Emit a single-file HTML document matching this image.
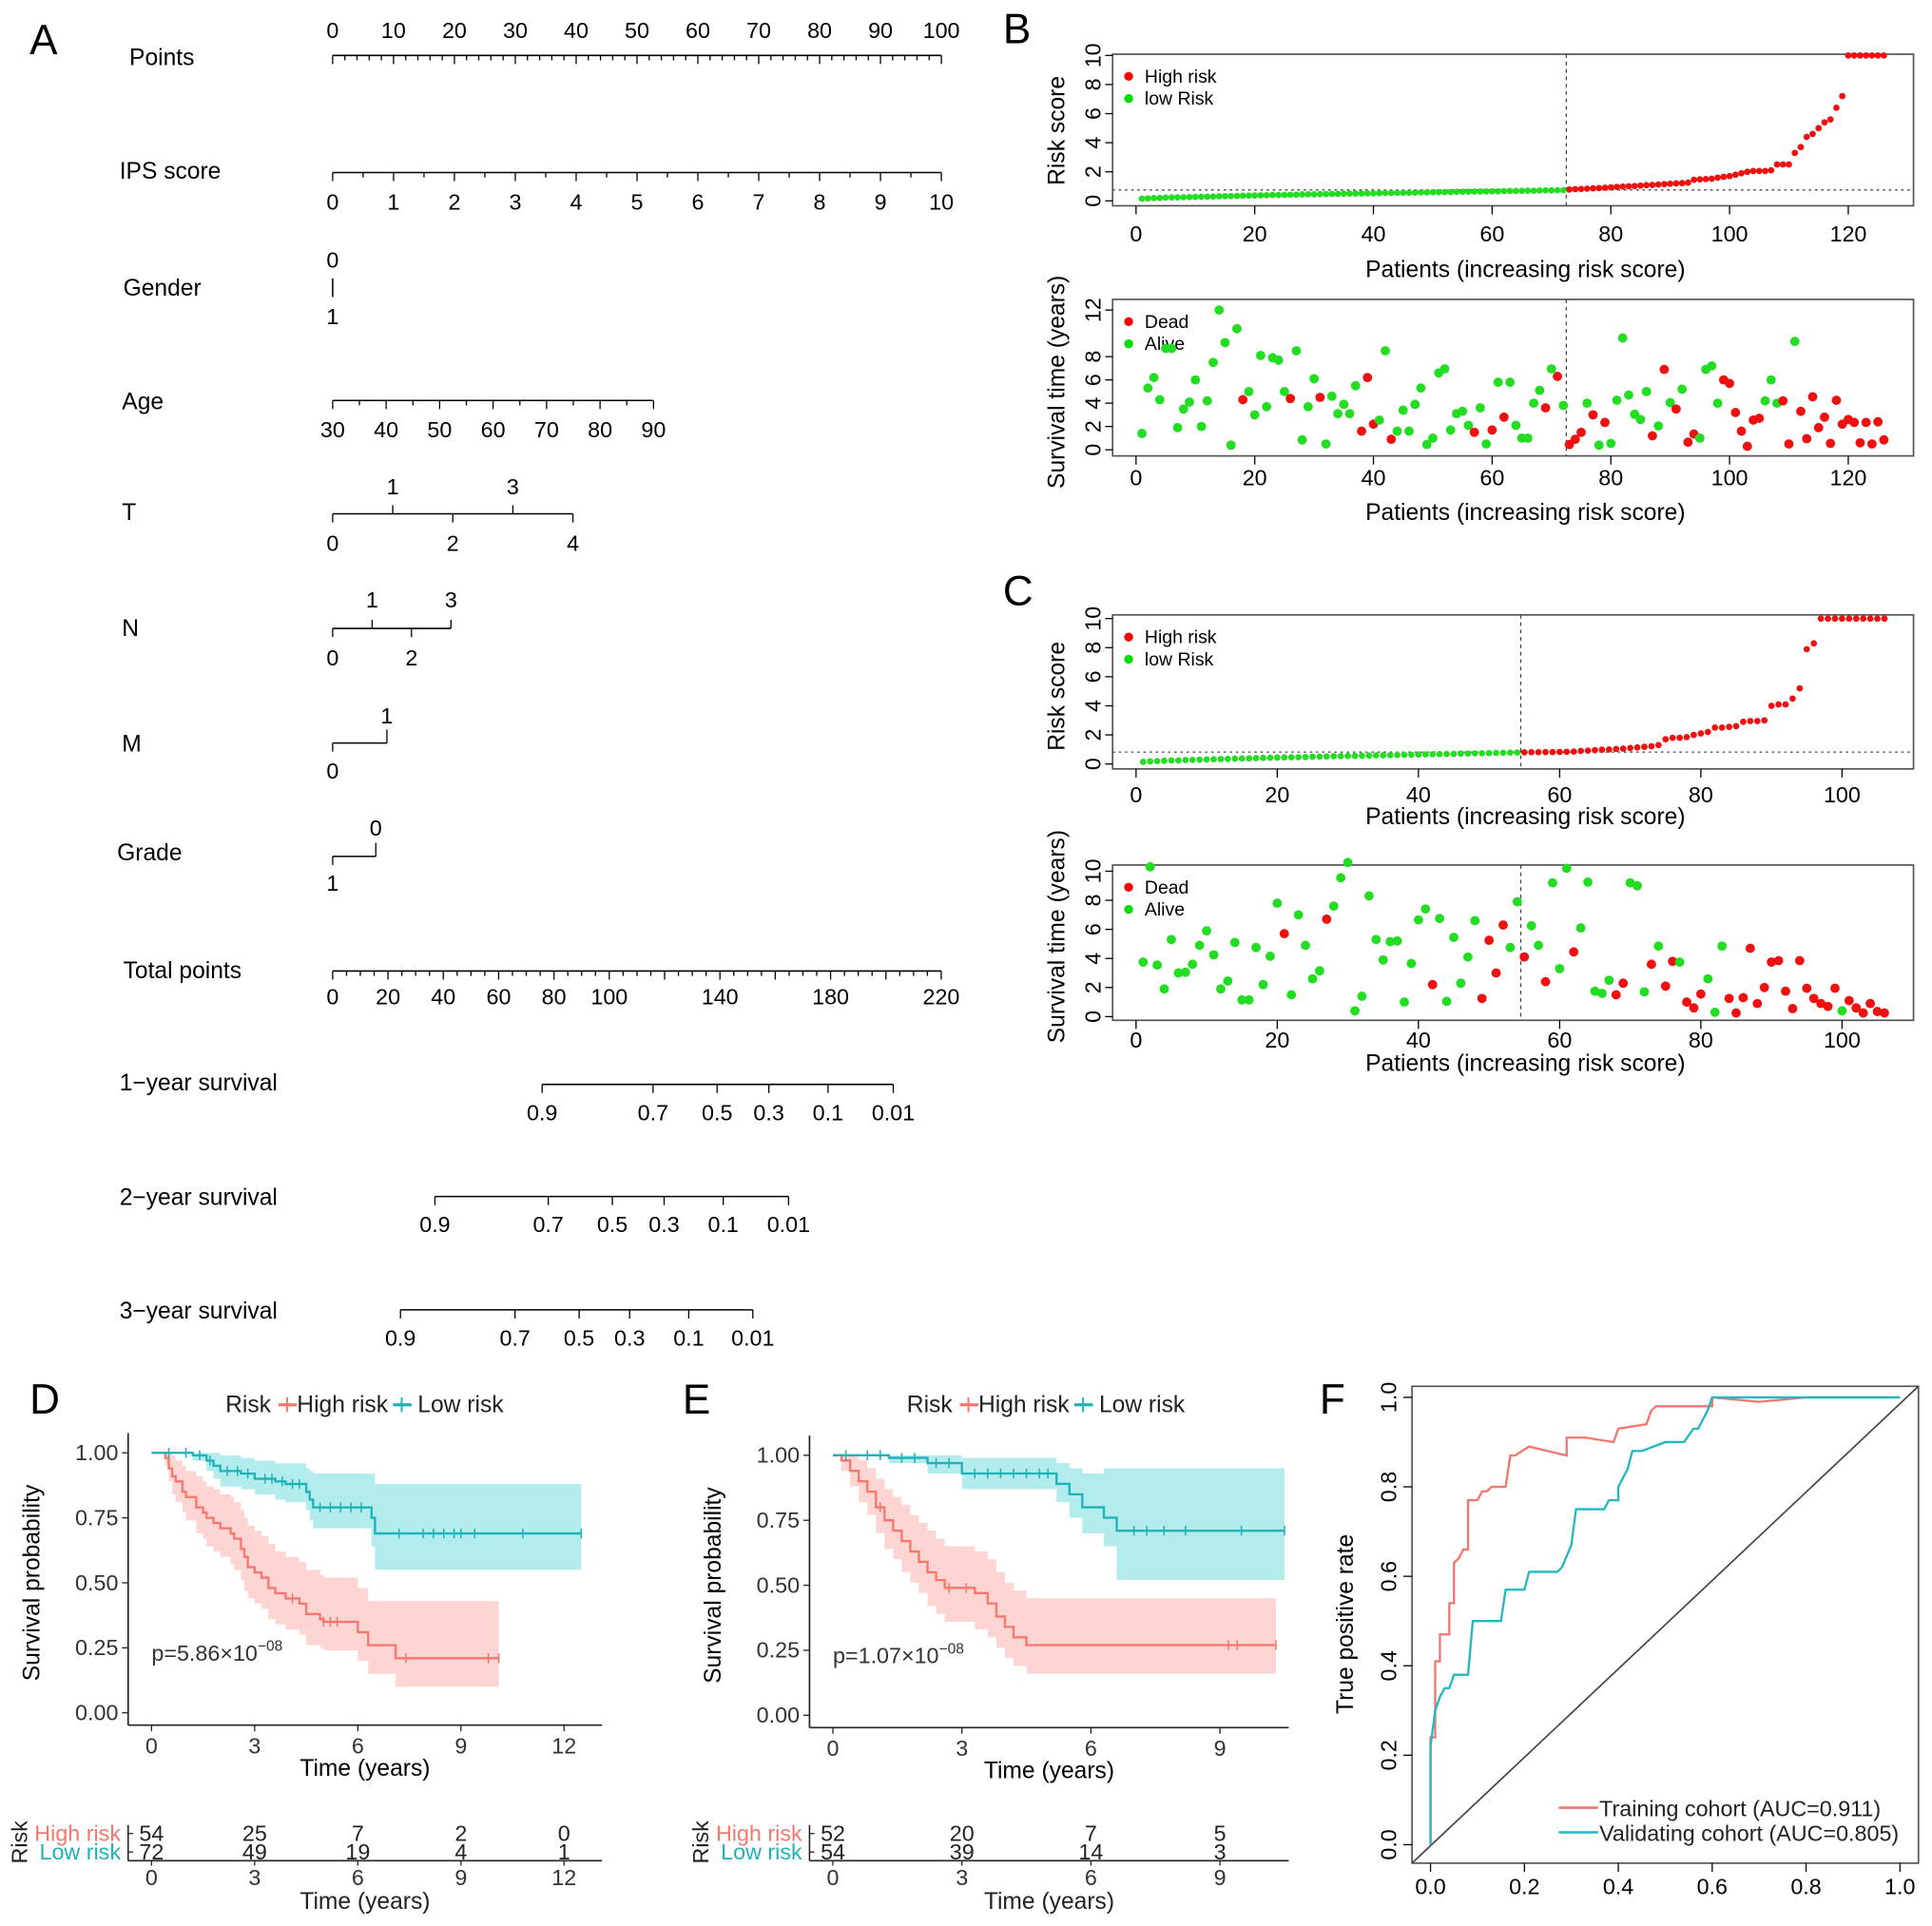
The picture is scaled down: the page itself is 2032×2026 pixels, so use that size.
<!DOCTYPE html>
<html><head><meta charset="utf-8"><style>
html,body{margin:0;padding:0;background:#fff;}
svg{display:block;font-family:"Liberation Sans",Arial,sans-serif;}
</style></head><body>
<svg id="fig" width="2032" height="2026" viewBox="0 0 1568 1563" preserveAspectRatio="none" xmlns="http://www.w3.org/2000/svg">
<rect x="0" y="0" width="1568" height="1563" fill="#fff"/>
<g font-size="34" fill="#000">
<text x="24" y="44">A</text>
<text x="814" y="35">B</text>
<text x="814" y="491">C</text>
<text x="24" y="1147">D</text>
<text x="554" y="1147">E</text>
<text x="1071" y="1147">F</text>
</g>
<g id="nomo"></g>
<g id="pB"></g>
<g id="pC"></g>
<g id="pD"></g>
<g id="pE"></g>
<g id="pF"></g>
</svg>
<script>
// ---------- DATA ----------
const bLowRisk=[0.15,0.17,0.19,0.2,0.22,0.23,0.24,0.25,0.26,0.27,0.28,0.29,0.3,0.31,0.32,0.33,0.34,0.35,0.36,0.37,0.38,0.39,0.4,0.4,0.41,0.42,0.43,0.44,0.45,0.45,0.46,0.47,0.48,0.48,0.49,0.5,0.5,0.51,0.52,0.52,0.53,0.54,0.54,0.55,0.56,0.56,0.57,0.58,0.58,0.59,0.6,0.6,0.61,0.62,0.62,0.63,0.64,0.64,0.65,0.66,0.66,0.67,0.68,0.68,0.69,0.7,0.7,0.71,0.72,0.72,0.73,0.74];
const bHighRisk=[0.78,0.8,0.82,0.84,0.86,0.88,0.9,0.93,0.96,0.98,1.0,1.02,1.05,1.08,1.1,1.12,1.15,1.18,1.2,1.22,1.25,1.45,1.48,1.5,1.52,1.6,1.65,1.7,1.8,1.9,2.0,2.05,2.05,2.05,2.1,2.5,2.5,2.5,3.3,3.7,4.4,4.6,5.0,5.4,5.6,6.4,7.2,10,10,10,10,10,10,10];
const bSurvTime=[1.4,5.3,6.2,4.3,8.7,8.7,1.9,3.5,4.1,6.0,2.0,4.2,7.5,12,9.2,0.4,10.4,4.3,5.0,3.0,8.1,3.7,7.9,7.7,5.0,4.4,8.5,0.85,3.7,6.1,4.5,0.5,4.6,3.1,3.9,3.1,5.5,1.6,6.2,2.2,2.55,8.5,0.9,1.6,3.4,1.6,3.9,5.3,0.45,1.0,6.6,6.95,1.7,3.1,3.3,2.1,1.5,3.6,0.5,1.7,5.8,2.8,5.8,2.1,1.0,1.0,4.0,5.1,3.6,6.95,6.3,3.8,0.45,0.9,1.5,4.0,3.0,0.4,2.35,0.55,4.25,9.6,4.7,3.05,2.6,5.0,1.2,2.05,6.9,4.05,3.5,5.2,0.65,1.35,1.0,6.9,7.2,4.0,6.0,5.7,3.2,1.6,0.3,2.55,2.7,4.2,6.0,4.0,4.2,0.5,9.3,3.3,0.95,4.55,1.9,2.8,0.55,4.25,2.2,2.6,2.35,0.6,2.35,0.5,2.4,0.85];
const bDead=[0,0,0,0,0,0,0,0,0,0,0,0,0,0,0,0,0,1,0,0,0,0,0,0,0,1,0,0,0,0,1,0,0,0,0,0,0,1,1,1,0,0,1,0,0,0,0,0,0,0,0,0,0,0,0,0,1,0,0,1,0,1,0,0,0,0,0,0,1,0,1,0,1,1,1,0,1,0,1,0,0,0,0,0,0,0,1,0,1,0,1,0,1,1,0,0,0,0,1,1,1,1,1,1,1,0,0,0,1,1,0,1,1,1,1,1,1,1,1,1,1,1,1,1,1,1];
const cLowRisk=[0.15,0.18,0.2,0.22,0.24,0.25,0.27,0.28,0.3,0.31,0.33,0.34,0.35,0.37,0.38,0.39,0.4,0.42,0.43,0.44,0.45,0.46,0.47,0.48,0.5,0.51,0.52,0.53,0.54,0.55,0.56,0.57,0.58,0.59,0.6,0.61,0.62,0.63,0.64,0.65,0.66,0.67,0.68,0.69,0.7,0.71,0.72,0.73,0.74,0.75,0.76,0.77,0.78,0.79];
const cHighRisk=[0.8,0.81,0.81,0.82,0.82,0.83,0.84,0.85,0.9,0.92,0.95,0.98,1.0,1.03,1.06,1.1,1.14,1.18,1.22,1.3,1.7,1.8,1.8,1.85,2.0,2.1,2.2,2.5,2.5,2.55,2.6,2.9,2.95,2.95,3.0,4.0,4.1,4.1,4.5,5.2,7.9,8.3,10,10,10,10,10,10,10,10,10,10];
const cSurvTime=[3.75,10.3,3.55,1.9,5.3,3.0,3.05,3.6,4.9,5.9,4.25,1.9,2.45,5.1,1.15,1.15,4.75,2.2,4.15,7.8,5.7,1.5,7.0,4.9,2.6,3.15,6.7,7.6,9.55,10.6,0.4,1.4,8.3,5.3,3.9,5.15,5.2,1.0,3.65,6.65,7.4,2.2,6.75,1.05,5.45,2.3,4.1,6.6,1.25,5.25,3.0,6.3,4.75,7.9,4.1,6.25,4.9,2.4,9.2,3.3,10.2,4.45,6.1,9.25,1.75,1.6,2.5,1.5,2.3,9.2,9.0,1.7,3.6,4.85,2.1,3.8,3.75,1.0,0.6,1.55,2.6,0.3,4.85,1.25,0.25,1.3,4.7,0.9,2.0,3.75,3.85,1.75,0.55,3.85,1.95,1.25,0.9,0.7,1.95,0.4,1.1,0.6,0.25,0.9,0.35,0.25];
const cDead=[0,0,0,0,0,0,0,0,0,0,0,0,0,0,0,0,0,0,0,0,1,0,0,0,0,0,1,0,0,0,0,0,0,0,0,0,0,0,0,0,0,1,0,0,0,0,0,0,1,1,1,1,0,0,1,0,0,1,0,0,0,1,0,0,0,0,0,1,1,0,0,0,1,0,1,1,0,1,1,1,0,0,0,1,1,1,1,1,1,1,1,1,1,1,1,1,1,1,1,0,1,1,1,1,1,1];
// KM D
const dHighT=[0,0.4,0.5,0.6,0.7,0.9,1.0,1.3,1.5,1.6,1.8,2.0,2.3,2.4,2.6,2.7,2.8,3.0,3.2,3.4,3.6,3.9,4.3,4.5,4.9,5.0,6.0,6.3,7.1];
const dHighS=[1,0.98,0.94,0.91,0.89,0.85,0.83,0.79,0.77,0.75,0.73,0.71,0.69,0.67,0.63,0.60,0.56,0.54,0.52,0.48,0.46,0.44,0.42,0.38,0.36,0.35,0.31,0.26,0.21];
const dHighUp=[1,1,1,0.99,0.97,0.95,0.93,0.91,0.89,0.87,0.86,0.84,0.83,0.81,0.78,0.75,0.72,0.70,0.68,0.65,0.62,0.60,0.58,0.55,0.53,0.52,0.48,0.43,0.43];
const dHighLo=[1,0.95,0.89,0.84,0.81,0.77,0.74,0.69,0.67,0.64,0.62,0.60,0.57,0.55,0.51,0.47,0.44,0.42,0.40,0.36,0.34,0.32,0.30,0.26,0.25,0.24,0.20,0.15,0.10];
const dHighEnd=10.1;
const dHighCens=[4.1,5.0,5.2,5.4,7.4,9.8,10.1];
const dLowT=[0,1.2,1.6,1.8,2.0,2.6,3.0,3.6,3.9,4.5,4.6,4.7,6.4,6.5];
const dLowS=[1,0.99,0.97,0.95,0.93,0.92,0.90,0.89,0.88,0.85,0.82,0.79,0.75,0.69];
const dLowUp=[1,1,1,1,0.99,0.98,0.97,0.96,0.96,0.94,0.93,0.92,0.92,0.88];
const dLowLo=[1,0.97,0.93,0.90,0.87,0.86,0.84,0.82,0.81,0.78,0.74,0.71,0.64,0.55];
const dLowEnd=12.5;
const dLowCens=[0.5,1.0,1.4,1.7,2.2,2.5,2.8,3.3,3.5,3.8,4.1,4.3,4.9,5.2,5.5,5.8,6.1,7.2,7.9,8.2,8.5,8.8,9.0,9.4,10.8,12.5];
const dRiskTimes=[0,3,6,9,12];
const dRiskHigh=[54,25,7,2,0];
const dRiskLow=[72,49,19,4,1];
// KM E
const eHighT=[0,0.2,0.4,0.6,0.8,1.0,1.2,1.4,1.6,1.8,2.0,2.2,2.4,2.6,3.3,3.6,3.8,4.0,4.2,4.5];
const eHighS=[1,0.98,0.94,0.90,0.86,0.80,0.75,0.71,0.67,0.63,0.59,0.55,0.52,0.49,0.47,0.43,0.38,0.34,0.30,0.27];
const eHighUp=[1,1,1,0.98,0.95,0.91,0.87,0.84,0.81,0.77,0.74,0.71,0.68,0.65,0.63,0.60,0.55,0.51,0.48,0.45];
const eHighLo=[1,0.94,0.88,0.82,0.77,0.70,0.64,0.60,0.55,0.51,0.47,0.42,0.39,0.36,0.33,0.30,0.26,0.22,0.19,0.16];
const eHighEnd=10.3;
const eHighCens=[1.1,2.7,3.1,9.2,9.4,10.3];
const eLowT=[0,1.3,2.2,3.0,5.2,5.5,5.8,6.3,6.6];
const eLowS=[1,0.99,0.97,0.93,0.89,0.85,0.80,0.76,0.71];
const eLowUp=[1,1,1,0.99,0.97,0.95,0.93,0.95,0.95];
const eLowLo=[1,0.97,0.93,0.87,0.82,0.76,0.70,0.65,0.52];
const eLowEnd=10.5;
const eLowCens=[0.3,0.8,1.1,1.6,1.9,2.4,2.7,3.3,3.6,3.9,4.2,4.5,4.8,5.0,7.0,7.3,7.7,8.2,9.5,10.5];
const eRiskTimes=[0,3,6,9];
const eRiskHigh=[52,20,7,5];
const eRiskLow=[54,39,14,3];
// ROC F
const trainFpr=[0,0,0.01,0.01,0.02,0.02,0.04,0.04,0.05,0.05,0.06,0.07,0.08,0.08,0.1,0.11,0.12,0.13,0.15,0.16,0.17,0.18,0.21,0.25,0.29,0.29,0.33,0.39,0.4,0.46,0.47,0.48,0.5,0.6,0.6,0.7,0.8,0.9,1.0];
const trainTpr=[0,0.24,0.24,0.41,0.41,0.47,0.47,0.54,0.54,0.63,0.64,0.66,0.66,0.77,0.77,0.79,0.79,0.80,0.80,0.80,0.87,0.87,0.89,0.88,0.87,0.91,0.91,0.90,0.93,0.94,0.97,0.98,0.98,0.98,1.0,0.99,1.0,1.0,1.0];
const validFpr=[0,0,0.01,0.02,0.03,0.04,0.05,0.08,0.09,0.15,0.16,0.2,0.21,0.27,0.28,0.3,0.31,0.37,0.38,0.4,0.4,0.42,0.43,0.45,0.5,0.54,0.56,0.57,0.59,0.6,0.7,0.8,1.0];
const validTpr=[0,0.22,0.30,0.33,0.35,0.35,0.38,0.38,0.50,0.50,0.57,0.57,0.61,0.61,0.62,0.67,0.75,0.75,0.77,0.77,0.80,0.84,0.88,0.88,0.90,0.90,0.93,0.93,0.97,1.0,1.0,1.0,1.0];

// ---------- helpers ----------
const NS='http://www.w3.org/2000/svg';
function mk(tag,attrs,parent){const e=document.createElementNS(NS,tag);for(const k in attrs)e.setAttribute(k,attrs[k]);parent.appendChild(e);return e;}
function tx(parent,x,y,s,size,anchor,fill){const t=mk('text',{x:x,y:y,'font-size':size,'text-anchor':anchor||'middle',fill:fill||'#000'},parent);t.textContent=s;return t;}
function ln(parent,x1,y1,x2,y2,stroke,w){return mk('line',{x1:x1,y1:y1,x2:x2,y2:y2,stroke:stroke||'#000','stroke-width':w||1},parent);}
const TS=18, TT=19;

// ---------- Nomogram ----------
const nomo=document.getElementById('nomo');
const rowLabels=[['Points',47],['IPS score',139],['Gender',234],['Age',326],['T',416],['N',510],['M',604],['Grade',692],['Total points',788],['1−year survival',879],['2−year survival',972],['3−year survival',1064]];
const rowX=[105,97,100,99,99,99,99,95,100,97,97,97];
rowLabels.forEach((r,i)=>{const t=tx(nomo,rowX[i],r[1]+6,r[0],TT,'start');

});
const sw=1.2;
ln(nomo,270,45,764,45,'#000',sw);
for(let v=0;v<=100;v+=2){const x=270+v*4.94;const l=ln(nomo,x,45,x,v%10===0?52:49,'#000',1);

}
for(let v=0;v<=100;v+=10){const t=tx(nomo,270+v*4.94,31,String(v),TS);

}
ln(nomo,270,140,764,140,'#000',sw);
for(let v=0;v<=10;v+=0.5){const x=270+v*49.4;ln(nomo,x,140,x,v%1===0?147:144,'#000',1);}
for(let v=0;v<=10;v++){const t=tx(nomo,270+v*49.4,170,String(v),TS);

}
ln(nomo,270,226,270,241,'#000',sw);tx(nomo,270,217,'0',TS);tx(nomo,270,263,'1',TS);
ln(nomo,270,325,530,325,'#000',sw);
for(let v=30;v<=90;v+=5){const x=270+(v-30)*4.34;ln(nomo,x,325,x,v%10===0?332:329,'#000',1);}
for(let v=30;v<=90;v+=10){tx(nomo,270+(v-30)*4.34,355,String(v),TS);}
ln(nomo,270,417,465,417,'#000',sw);
[[0,1],[1,-1],[2,1],[3,-1],[4,1]].forEach(([v,d])=>{const x=270+v*48.75;ln(nomo,x,417,x,417+d*7,'#000',1);tx(nomo,x,d>0?447:401,String(v),TS);});
ln(nomo,270,510,366,510,'#000',sw);
[[0,1],[1,-1],[2,1],[3,-1]].forEach(([v,d])=>{const x=270+v*32;ln(nomo,x,510,x,510+d*7,'#000',1);tx(nomo,x,d>0?540:493,String(v),TS);});
ln(nomo,270,603,314,603,'#000',sw);ln(nomo,314,603,314,592,'#000',1);ln(nomo,270,603,270,610,'#000',1);
tx(nomo,314,587,'1',TS);tx(nomo,270,632,'0',TS);
ln(nomo,270,695,305,695,'#000',sw);ln(nomo,305,695,305,684,'#000',1);ln(nomo,270,695,270,702,'#000',1);
tx(nomo,305,678,'0',TS);tx(nomo,270,723,'1',TS);
ln(nomo,270,788,764,788,'#000',sw);
for(let v=0;v<=220;v+=5){const x=270+v*2.245;ln(nomo,x,788,x,v%20===0?795:792,'#000',1);}
[0,20,40,60,80,100,140,180,220].forEach(v=>{tx(nomo,270+v*2.245,815,String(v),TS);});
const survLabels=['0.9','0.7','0.5','0.3','0.1','0.01'];
const surv1=[440,530,582,624,672,725],surv2=[353,445,497,539,587,640],surv3=[325,418,470,511,559,611];
[[surv1,880],[surv2,971],[surv3,1063]].forEach(([xs,y])=>{ln(nomo,xs[0],y,xs[5],y,'#000',sw);
xs.forEach((x,i)=>{ln(nomo,x,y,x,y+7,'#000',1);const t=tx(nomo,x,y+29,survLabels[i],TS);

});});

// ---------- Risk panels ----------
function riskPanel(g,o){
  const {L,R,T,B,x0,xPer,y0,yPer,xt,yt,thr,cut,lab1,lab2,titleY,tickY,yTitle,yTitleY}=o;
  const X=v=>x0+v*xPer, Y=v=>y0-v*yPer;
  const box=mk('rect',{x:L,y:T,width:R-L,height:B-T,fill:'none',stroke:'#555','stroke-width':1.3},g);
  
  
  xt.forEach(v=>{ln(g,X(v),B,X(v),B+7,'#000',1);const t=tx(g,X(v),tickY,String(v),TS);
  
  });
  yt.forEach(v=>{ln(g,L,Y(v),L-6,Y(v),'#000',1);const t=tx(g,0,0,String(v),TS);t.setAttribute('transform',`translate(${L-10},${Y(v)}) rotate(-90)`);
  
  });
  const xtl=tx(g,1238,titleY,'Patients (increasing risk score)',TT);
  
  
  const ytl=tx(g,0,0,yTitle,TT);ytl.setAttribute('transform',`translate(864,${yTitleY}) rotate(-90)`);
  
  
  const vl=ln(g,X(cut+0.5),T,X(cut+0.5),B,'#444',1);vl.setAttribute('stroke-dasharray','3,3');
  
  
  if(thr!==null){const hl=ln(g,L,Y(thr),R,Y(thr),'#444',1);hl.setAttribute('stroke-dasharray','2,3');
  
  }
  mk('circle',{cx:L+13,cy:T+18,r:3.6,fill:'#f00'},g);mk('circle',{cx:L+13,cy:T+36,r:3.6,fill:'#0d0'},g);
  const l1=tx(g,L+26,T+23,lab1,15,'start');
  const l2=tx(g,L+26,T+41,lab2,15,'start');
  return {X,Y};
}
function scoreDots(g,sc,low,high){
  low.forEach((v,i)=>{const c=mk('circle',{cx:sc.X(i+1),cy:sc.Y(v),r:2.6,fill:'#22dd22'},g);
  
  });
  high.forEach((v,i)=>{const c=mk('circle',{cx:sc.X(low.length+i+1),cy:sc.Y(v),r:2.6,fill:'#f01010'},g);
  
  });
}
function survDots(g,sc,times,dead){
  times.forEach((v,i)=>{const c=mk('circle',{cx:sc.X(i+1),cy:sc.Y(v),r:3.8,fill:dead[i]?'#f01010':'#22dd22'},g);
  
  });
}
const pB=document.getElementById('pB');
const gB1=mk('g',{},pB);
const sB1=riskPanel(gB1,{L:903,R:1553,T:44,B:167,x0:922,xPer:4.817,y0:163,yPer:11.8,xt:[0,20,40,60,80,100,120],yt:[0,2,4,6,8,10],thr:0.75,cut:72,lab1:'High risk',lab2:'low Risk',titleY:225,tickY:196,yTitle:'Risk score',yTitleY:106});
scoreDots(gB1,sB1,bLowRisk,bHighRisk);
const gB2=mk('g',{},pB);
const sB2=riskPanel(gB2,{L:903,R:1553,T:243,B:370,x0:922,xPer:4.817,y0:365,yPer:9.45,xt:[0,20,40,60,80,100,120],yt:[0,2,4,6,8,12],thr:null,cut:72,lab1:'Dead',lab2:'Alive',titleY:422,tickY:394,yTitle:'Survival time (years)',yTitleY:310});
survDots(gB2,sB2,bSurvTime,bDead);
const pC=document.getElementById('pC');
const gC1=mk('g',{},pC);
const sC1=riskPanel(gC1,{L:903,R:1553,T:499,B:624,x0:922,xPer:5.73,y0:620,yPer:11.8,xt:[0,20,40,60,80,100],yt:[0,2,4,6,8,10],thr:0.82,cut:54,lab1:'High risk',lab2:'low Risk',titleY:669,tickY:651,yTitle:'Risk score',yTitleY:565});
scoreDots(gC1,sC1,cLowRisk,cHighRisk);
const gC2=mk('g',{},pC);
const sC2=riskPanel(gC2,{L:903,R:1553,T:702,B:828,x0:922,xPer:5.73,y0:825,yPer:11.8,xt:[0,20,40,60,80,100],yt:[0,2,4,6,8,10],thr:null,cut:54,lab1:'Dead',lab2:'Alive',titleY:869,tickY:850,yTitle:'Survival time (years)',yTitleY:760});
survDots(gC2,sC2,cSurvTime,cDead);

// ---------- KM panels ----------
function stepPath(X,Y,t,s,end){let d=`M${X(t[0])},${Y(s[0])}`;for(let i=1;i<t.length;i++){d+=` H${X(t[i])} V${Y(s[i])}`;}d+=` H${X(end)}`;return d;}
function stepBand(X,Y,t,up,lo,end){let d=`M${X(t[0])},${Y(up[0])}`;for(let i=1;i<t.length;i++){d+=` H${X(t[i])} V${Y(up[i])}`;}d+=` H${X(end)} V${Y(lo[lo.length-1])}`;
for(let i=t.length-1;i>=1;i--){d+=` H${X(t[i])} V${Y(lo[i-1])}`;}d+=` H${X(t[0])} Z`;return d;}
function survAt(t,s,x){let v=s[0];for(let i=0;i<t.length;i++){if(t[i]<=x)v=s[i];}return v;}
function kmPanel(g,o){
  const {axL,x0,xPer,y0,yPer,xMax,xt,curves,riskT,riskH,riskL,pText,legX}=o;
  const X=v=>x0+v*xPer,Y=v=>y0-v*yPer;
  const axB=y0+10, axR=X(xMax);
  curves.forEach(c=>{const b=mk('path',{d:stepBand(X,Y,c.t,c.up,c.lo,c.end),fill:c.fill,stroke:'none'},g);
  
  });
  curves.forEach(c=>{const p=mk('path',{d:stepPath(X,Y,c.t,c.s,c.end),fill:'none',stroke:c.col,'stroke-width':1.8},g);
  
  
  c.cens.forEach(ct=>{const y=Y(survAt(c.t,c.s,ct));const m=ln(g,X(ct),y-4,X(ct),y+4,c.col,1.2);
  
  });});
  ln(g,axL,Y(1)-16,axL,axB,'#222',1.3);ln(g,axL,axB,axR,axB,'#222',1.3);
  [0,0.25,0.5,0.75,1].forEach(v=>{ln(g,axL-5,Y(v),axL,Y(v),'#222',1);const t=tx(g,axL-8,Y(v)+6,v.toFixed(2),TS,'end','#333');
  
  });
  xt.forEach(v=>{ln(g,X(v),axB,X(v),axB+5,'#222',1);const t=tx(g,X(v),axB+23,String(v),TS,'middle','#333');
  
  });
  const xtt=tx(g,(axL+axR)/2,axB+41,'Time (years)',TT);
  const ytt=tx(g,0,0,'Survival probability',TT);ytt.setAttribute('transform',`translate(${axL-72},${Y(0.5)}) rotate(-90)`);
  
  const pt=mk('text',{x:X(0),y:Y(0.2),'font-size':TS,fill:'#333'},g);pt.innerHTML=pText[0]+'<tspan dy="-8" font-size="12">'+pText[1]+'</tspan>';
  
  const lg=mk('g',{},g);
  tx(lg,legX,1146,'Risk',TT,'start','#222');
  ln(lg,legX+43,1140,legX+58,1140,'#F8766D',2.5);ln(lg,legX+50,1134,legX+50,1146,'#F8766D',1.5);
  tx(lg,legX+58,1146,'High risk',TT,'start','#222');
  ln(lg,legX+136,1140,legX+151,1140,'#1fb3b8',2.5);ln(lg,legX+143,1134,legX+143,1146,'#1fb3b8',1.5);
  tx(lg,legX+156,1146,'Low risk',TT,'start','#222');
  const tb=mk('g',{},g);
  const rt=tx(tb,0,0,'Risk',TS,'middle','#222');rt.setAttribute('transform',`translate(${axL-82},1495) rotate(-90)`);
  tx(tb,axL-6,1494,'High risk',TS,'end','#F8766D');tx(tb,axL-6,1509,'Low risk',TS,'end','#1fb3b8');
  ln(tb,axL,1481,axL,1510,'#222',1.2);ln(tb,axL,1510,axR,1510,'#222',1.2);
  ln(tb,axL,1488,axL+4,1488,'#222',1);ln(tb,axL,1503,axL+4,1503,'#222',1);
  riskT.forEach((v,i)=>{const a=tx(tb,X(v),1494,String(riskH[i]),TS,'middle','#222');
  
  const b=tx(tb,X(v),1509,String(riskL[i]),TS,'middle','#222');
  
  ln(tb,X(v),1510,X(v),1514,'#222',1);tx(tb,X(v),1530,String(v),TS,'middle','#333');});
  tx(tb,(axL+axR)/2,1549,'Time (years)',TT,'middle','#222');
}
const pD=document.getElementById('pD');
kmPanel(pD,{axL:104,x0:123,xPer:27.9,y0:1390,yPer:211,xMax:13.1,xt:[0,3,6,9,12],
 curves:[{name:'high-risk',t:dHighT,s:dHighS,up:dHighUp,lo:dHighLo,end:dHighEnd,cens:dHighCens,col:'#F8766D',fill:'rgba(248,118,109,0.3)'},
         {name:'low-risk',t:dLowT,s:dLowS,up:dLowUp,lo:dLowLo,end:dLowEnd,cens:dLowCens,col:'#1fb3b8',fill:'rgba(0,191,196,0.3)'}],
 riskT:dRiskTimes,riskH:dRiskHigh,riskL:dRiskLow,pText:['p=5.86×10','−08'],legX:183});
const pE=document.getElementById('pE');
kmPanel(pE,{axL:657,x0:676,xPer:34.9,y0:1392,yPer:211,xMax:10.6,xt:[0,3,6,9],
 curves:[{name:'high-risk',t:eHighT,s:eHighS,up:eHighUp,lo:eHighLo,end:eHighEnd,cens:eHighCens,col:'#F8766D',fill:'rgba(248,118,109,0.3)'},
         {name:'low-risk',t:eLowT,s:eLowS,up:eLowUp,lo:eLowLo,end:eLowEnd,cens:eLowCens,col:'#1fb3b8',fill:'rgba(0,191,196,0.3)'}],
 riskT:eRiskTimes,riskH:eRiskHigh,riskL:eRiskLow,pText:['p=1.07×10','−08'],legX:736});

// ---------- ROC ----------
const pF=document.getElementById('pF');
const FX=v=>1161+v*381, FY=v=>1497-v*363;
const fb=mk('rect',{x:1146,y:1125,width:411,height:387,fill:'none',stroke:'#555','stroke-width':1.3},pF);

const dg=ln(pF,1146,1512,1557,1125,'#444',1.3);
[0,0.2,0.4,0.6,0.8,1].forEach(v=>{ln(pF,FX(v),1512,FX(v),1519,'#000',1);const t=tx(pF,FX(v),1537,v.toFixed(1),TS);

ln(pF,1146,FY(v),1139,FY(v),'#000',1);const u=tx(pF,0,0,v.toFixed(1),TS);u.setAttribute('transform',`translate(1133,${FY(v)}) rotate(-90)`);
});
const fyt=tx(pF,0,0,'True positive rate',TT);fyt.setAttribute('transform','translate(1098,1318) rotate(-90)');

function rocLine(f,t,col,name){const pts=f.map((v,i)=>FX(v)+','+FY(t[i])).join(' ');const p=mk('polyline',{points:pts,fill:'none',stroke:col,'stroke-width':1.8},pF);
}
rocLine(trainFpr,trainTpr,'#F07870','training-roc-curve');
rocLine(validFpr,validTpr,'#22b8c2','validating-roc-curve');
ln(pF,1265,1467,1297,1467,'#F07870',2);ln(pF,1265,1487,1297,1487,'#22b8c2',2);
const le1=tx(pF,1298,1474,'Training cohort (AUC=0.911)',TS,'start','#222');
const le2=tx(pF,1298,1494,'Validating cohort (AUC=0.805)',TS,'start','#222');
</script>
</body></html>
